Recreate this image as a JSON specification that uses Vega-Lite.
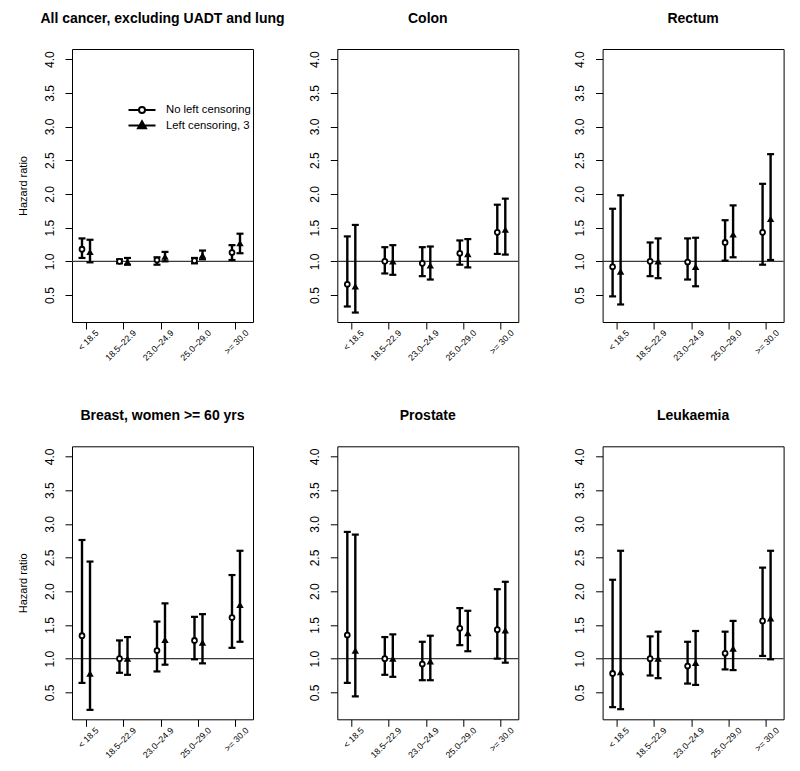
{
  "$schema": "https://vega.github.io/schema/vega-lite/v6.json",
  "background": "white",
  "padding": {"left": 16, "top": 11, "right": 10, "bottom": 5},
  "datasets": {
    "hr": [
      {"cancer": "All cancer, excluding UADT and lung", "bmi": "< 18.5", "series": "No left censoring", "hr": 1.18, "lo": 1.05, "hi": 1.34},
      {"cancer": "All cancer, excluding UADT and lung", "bmi": "< 18.5", "series": "Left censoring, 3", "hr": 1.14, "lo": 0.985, "hi": 1.32},
      {"cancer": "All cancer, excluding UADT and lung", "bmi": "18.5–22.9", "series": "No left censoring", "hr": 1.0, "lo": 0.97, "hi": 1.03},
      {"cancer": "All cancer, excluding UADT and lung", "bmi": "18.5–22.9", "series": "Left censoring, 3", "hr": 0.99, "lo": 0.95, "hi": 1.05},
      {"cancer": "All cancer, excluding UADT and lung", "bmi": "23.0–24.9", "series": "No left censoring", "hr": 1.02, "lo": 0.95, "hi": 1.06},
      {"cancer": "All cancer, excluding UADT and lung", "bmi": "23.0–24.9", "series": "Left censoring, 3", "hr": 1.07, "lo": 1.0, "hi": 1.14},
      {"cancer": "All cancer, excluding UADT and lung", "bmi": "25.0–29.0", "series": "No left censoring", "hr": 1.01, "lo": 0.97, "hi": 1.05},
      {"cancer": "All cancer, excluding UADT and lung", "bmi": "25.0–29.0", "series": "Left censoring, 3", "hr": 1.09, "lo": 1.03, "hi": 1.16},
      {"cancer": "All cancer, excluding UADT and lung", "bmi": ">= 30.0", "series": "No left censoring", "hr": 1.13, "lo": 1.02, "hi": 1.24},
      {"cancer": "All cancer, excluding UADT and lung", "bmi": ">= 30.0", "series": "Left censoring, 3", "hr": 1.27, "lo": 1.12, "hi": 1.41},

      {"cancer": "Colon", "bmi": "< 18.5", "series": "No left censoring", "hr": 0.66, "lo": 0.33, "hi": 1.37},
      {"cancer": "Colon", "bmi": "< 18.5", "series": "Left censoring, 3", "hr": 0.63, "lo": 0.24, "hi": 1.54},
      {"cancer": "Colon", "bmi": "18.5–22.9", "series": "No left censoring", "hr": 1.0, "lo": 0.82, "hi": 1.21},
      {"cancer": "Colon", "bmi": "18.5–22.9", "series": "Left censoring, 3", "hr": 1.0, "lo": 0.8, "hi": 1.24},
      {"cancer": "Colon", "bmi": "23.0–24.9", "series": "No left censoring", "hr": 0.97, "lo": 0.78, "hi": 1.21},
      {"cancer": "Colon", "bmi": "23.0–24.9", "series": "Left censoring, 3", "hr": 0.94, "lo": 0.73, "hi": 1.22},
      {"cancer": "Colon", "bmi": "25.0–29.0", "series": "No left censoring", "hr": 1.12, "lo": 0.95, "hi": 1.31},
      {"cancer": "Colon", "bmi": "25.0–29.0", "series": "Left censoring, 3", "hr": 1.11, "lo": 0.91, "hi": 1.33},
      {"cancer": "Colon", "bmi": ">= 30.0", "series": "No left censoring", "hr": 1.43, "lo": 1.11, "hi": 1.84},
      {"cancer": "Colon", "bmi": ">= 30.0", "series": "Left censoring, 3", "hr": 1.47, "lo": 1.1, "hi": 1.93},

      {"cancer": "Rectum", "bmi": "< 18.5", "series": "No left censoring", "hr": 0.92, "lo": 0.48, "hi": 1.78},
      {"cancer": "Rectum", "bmi": "< 18.5", "series": "Left censoring, 3", "hr": 0.85, "lo": 0.36, "hi": 1.98},
      {"cancer": "Rectum", "bmi": "18.5–22.9", "series": "No left censoring", "hr": 1.0, "lo": 0.78, "hi": 1.28},
      {"cancer": "Rectum", "bmi": "18.5–22.9", "series": "Left censoring, 3", "hr": 1.0, "lo": 0.75, "hi": 1.34},
      {"cancer": "Rectum", "bmi": "23.0–24.9", "series": "No left censoring", "hr": 0.99, "lo": 0.73, "hi": 1.34},
      {"cancer": "Rectum", "bmi": "23.0–24.9", "series": "Left censoring, 3", "hr": 0.92, "lo": 0.63, "hi": 1.35},
      {"cancer": "Rectum", "bmi": "25.0–29.0", "series": "No left censoring", "hr": 1.28, "lo": 1.01, "hi": 1.61},
      {"cancer": "Rectum", "bmi": "25.0–29.0", "series": "Left censoring, 3", "hr": 1.4, "lo": 1.06, "hi": 1.83},
      {"cancer": "Rectum", "bmi": ">= 30.0", "series": "No left censoring", "hr": 1.43, "lo": 0.95, "hi": 2.15},
      {"cancer": "Rectum", "bmi": ">= 30.0", "series": "Left censoring, 3", "hr": 1.63, "lo": 1.02, "hi": 2.59},

      {"cancer": "Breast, women >= 60 yrs", "bmi": "< 18.5", "series": "No left censoring", "hr": 1.34, "lo": 0.64, "hi": 2.76},
      {"cancer": "Breast, women >= 60 yrs", "bmi": "< 18.5", "series": "Left censoring, 3", "hr": 0.78, "lo": 0.24, "hi": 2.44},
      {"cancer": "Breast, women >= 60 yrs", "bmi": "18.5–22.9", "series": "No left censoring", "hr": 1.0, "lo": 0.79, "hi": 1.27},
      {"cancer": "Breast, women >= 60 yrs", "bmi": "18.5–22.9", "series": "Left censoring, 3", "hr": 1.0, "lo": 0.76, "hi": 1.32},
      {"cancer": "Breast, women >= 60 yrs", "bmi": "23.0–24.9", "series": "No left censoring", "hr": 1.12, "lo": 0.81, "hi": 1.55},
      {"cancer": "Breast, women >= 60 yrs", "bmi": "23.0–24.9", "series": "Left censoring, 3", "hr": 1.28, "lo": 0.91, "hi": 1.82},
      {"cancer": "Breast, women >= 60 yrs", "bmi": "25.0–29.0", "series": "No left censoring", "hr": 1.27, "lo": 0.99, "hi": 1.62},
      {"cancer": "Breast, women >= 60 yrs", "bmi": "25.0–29.0", "series": "Left censoring, 3", "hr": 1.24, "lo": 0.93, "hi": 1.66},
      {"cancer": "Breast, women >= 60 yrs", "bmi": ">= 30.0", "series": "No left censoring", "hr": 1.61, "lo": 1.16, "hi": 2.24},
      {"cancer": "Breast, women >= 60 yrs", "bmi": ">= 30.0", "series": "Left censoring, 3", "hr": 1.8, "lo": 1.25, "hi": 2.6},

      {"cancer": "Prostate", "bmi": "< 18.5", "series": "No left censoring", "hr": 1.35, "lo": 0.64, "hi": 2.88},
      {"cancer": "Prostate", "bmi": "< 18.5", "series": "Left censoring, 3", "hr": 1.12, "lo": 0.44, "hi": 2.84},
      {"cancer": "Prostate", "bmi": "18.5–22.9", "series": "No left censoring", "hr": 1.0, "lo": 0.76, "hi": 1.32},
      {"cancer": "Prostate", "bmi": "18.5–22.9", "series": "Left censoring, 3", "hr": 1.0, "lo": 0.73, "hi": 1.36},
      {"cancer": "Prostate", "bmi": "23.0–24.9", "series": "No left censoring", "hr": 0.92, "lo": 0.68, "hi": 1.25},
      {"cancer": "Prostate", "bmi": "23.0–24.9", "series": "Left censoring, 3", "hr": 0.96, "lo": 0.68, "hi": 1.34},
      {"cancer": "Prostate", "bmi": "25.0–29.0", "series": "No left censoring", "hr": 1.45, "lo": 1.2, "hi": 1.75},
      {"cancer": "Prostate", "bmi": "25.0–29.0", "series": "Left censoring, 3", "hr": 1.38, "lo": 1.11, "hi": 1.71},
      {"cancer": "Prostate", "bmi": ">= 30.0", "series": "No left censoring", "hr": 1.43, "lo": 1.0, "hi": 2.03},
      {"cancer": "Prostate", "bmi": ">= 30.0", "series": "Left censoring, 3", "hr": 1.42, "lo": 0.94, "hi": 2.14},

      {"cancer": "Leukaemia", "bmi": "< 18.5", "series": "No left censoring", "hr": 0.78, "lo": 0.28, "hi": 2.17},
      {"cancer": "Leukaemia", "bmi": "< 18.5", "series": "Left censoring, 3", "hr": 0.8, "lo": 0.25, "hi": 2.6},
      {"cancer": "Leukaemia", "bmi": "18.5–22.9", "series": "No left censoring", "hr": 1.0, "lo": 0.75, "hi": 1.33},
      {"cancer": "Leukaemia", "bmi": "18.5–22.9", "series": "Left censoring, 3", "hr": 1.0, "lo": 0.71, "hi": 1.4},
      {"cancer": "Leukaemia", "bmi": "23.0–24.9", "series": "No left censoring", "hr": 0.89, "lo": 0.63, "hi": 1.25},
      {"cancer": "Leukaemia", "bmi": "23.0–24.9", "series": "Left censoring, 3", "hr": 0.94, "lo": 0.61, "hi": 1.41},
      {"cancer": "Leukaemia", "bmi": "25.0–29.0", "series": "No left censoring", "hr": 1.08, "lo": 0.84, "hi": 1.4},
      {"cancer": "Leukaemia", "bmi": "25.0–29.0", "series": "Left censoring, 3", "hr": 1.15, "lo": 0.83, "hi": 1.56},
      {"cancer": "Leukaemia", "bmi": ">= 30.0", "series": "No left censoring", "hr": 1.56, "lo": 1.04, "hi": 2.35},
      {"cancer": "Leukaemia", "bmi": ">= 30.0", "series": "Left censoring, 3", "hr": 1.6, "lo": 0.99, "hi": 2.6}
    ]
  },
  "columns": 3,
  "spacing": {"row": 124.3, "column": 84.3},
  "bounds": "flush",
  "resolve": {"scale": {"stroke": "independent"}, "legend": {"stroke": "independent"}},
  "concat": [
    {
      "title": "All cancer, excluding UADT and lung",
      "width": 181, "height": 273,
      "layer": [
        {"data": {"values": [{"ref": 1}]}, "mark": {"type": "rule", "color": "#3a3a3a", "strokeWidth": 1.3},
         "encoding": {"y": {"field": "ref", "type": "quantitative", "scale": {"domain": [0.1, 4.15], "nice": false, "zero": false}, "axis": {"title": "Hazard ratio", "tickCount": 8, "format": ".1f", "labelAngle": -90, "labelAlign": "center", "labelBaseline": "alphabetic"}}}},
        {"data": {"name": "hr"}, "transform": [{"filter": "datum.cancer === 'All cancer, excluding UADT and lung'"}],
         "mark": {"type": "rule", "strokeWidth": 2.4},
         "encoding": {
           "x": {"field": "bmi", "type": "nominal", "sort": ["< 18.5", "18.5–22.9", "23.0–24.9", "25.0–29.0", ">= 30.0"], "scale": {"domain": ["< 18.5", "18.5–22.9", "23.0–24.9", "25.0–29.0", ">= 30.0"], "paddingInner": 0.573, "paddingOuter": 0.2, "align": 0.4}, "axis": {"title": null}},
           "xOffset": {"field": "series", "type": "nominal", "scale": {"domain": ["No left censoring", "Left censoring, 3"]}},
           "y": {"field": "lo", "type": "quantitative"}, "y2": {"field": "hi"},
           "stroke": {"field": "series", "type": "nominal", "scale": {"domain": ["No left censoring", "Left censoring, 3"], "range": ["black", "black"]},
             "legend": {"title": null, "orient": "none", "legendX": 64, "legendY": 55, "padding": 0, "symbolSize": 100, "symbolStrokeWidth": 2, "symbolStrokeColor": "black", "labelFont": "Liberation Sans", "labelFontSize": 11.3, "labelColor": "black", "labelOffset": 18, "rowPadding": -0.5, "labelLimit": 300,
               "encode": {"symbols": {"update": {
                 "shape": {"signal": "datum.value === 'No left censoring' ? 'M-2.7,0H-0.6M0.6,0H2.7M-0.6,0A0.6,0.6 0 1,1 0.6,0A0.6,0.6 0 1,1 -0.6,0Z' : 'M-2.7,0H2.7M-0.8,0.55L0.8,0.55L0,-0.85Z'"},
                 "fill": {"signal": "datum.value === 'No left censoring' ? 'white' : 'black'"},
                 "stroke": {"value": "black"}, "strokeWidth": {"value": 2}, "opacity": {"value": 1}}}}}}
         }},
        {"data": {"name": "hr"}, "transform": [{"filter": "datum.cancer === 'All cancer, excluding UADT and lung'"}],
         "mark": {"type": "tick", "size": 7, "thickness": 2.2, "color": "black", "opacity": 1},
         "encoding": {"x": {"field": "bmi", "type": "nominal", "sort": ["< 18.5", "18.5–22.9", "23.0–24.9", "25.0–29.0", ">= 30.0"]}, "xOffset": {"field": "series", "type": "nominal"}, "y": {"field": "lo", "type": "quantitative"}}},
        {"data": {"name": "hr"}, "transform": [{"filter": "datum.cancer === 'All cancer, excluding UADT and lung'"}],
         "mark": {"type": "tick", "size": 7, "thickness": 2.2, "color": "black", "opacity": 1},
         "encoding": {"x": {"field": "bmi", "type": "nominal", "sort": ["< 18.5", "18.5–22.9", "23.0–24.9", "25.0–29.0", ">= 30.0"]}, "xOffset": {"field": "series", "type": "nominal"}, "y": {"field": "hi", "type": "quantitative"}}},
        {"data": {"name": "hr"}, "transform": [{"filter": "datum.cancer === 'All cancer, excluding UADT and lung' && datum.series === 'No left censoring'"}],
         "mark": {"type": "point", "shape": "circle", "filled": true, "fill": "white", "stroke": "black", "strokeWidth": 1.8, "size": 24, "opacity": 1},
         "encoding": {"x": {"field": "bmi", "type": "nominal", "sort": ["< 18.5", "18.5–22.9", "23.0–24.9", "25.0–29.0", ">= 30.0"]}, "xOffset": {"field": "series", "type": "nominal"}, "y": {"field": "hr", "type": "quantitative"}}},
        {"data": {"name": "hr"}, "transform": [{"filter": "datum.cancer === 'All cancer, excluding UADT and lung' && datum.series === 'Left censoring, 3'"}],
         "mark": {"type": "point", "shape": "triangle-up", "filled": true, "color": "black", "size": 55, "opacity": 1},
         "encoding": {"x": {"field": "bmi", "type": "nominal", "sort": ["< 18.5", "18.5–22.9", "23.0–24.9", "25.0–29.0", ">= 30.0"]}, "xOffset": {"field": "series", "type": "nominal"}, "y": {"field": "hr", "type": "quantitative"}}}
      ]
    },
    {
      "title": "Colon",
      "width": 181, "height": 273,
      "layer": [
        {"data": {"values": [{"ref": 1}]}, "mark": {"type": "rule", "color": "#3a3a3a", "strokeWidth": 1.3},
         "encoding": {"y": {"field": "ref", "type": "quantitative", "scale": {"domain": [0.1, 4.15], "nice": false, "zero": false}, "axis": {"title": null, "tickCount": 8, "format": ".1f", "labelAngle": -90, "labelAlign": "center", "labelBaseline": "alphabetic"}}}},
        {"data": {"name": "hr"}, "transform": [{"filter": "datum.cancer === 'Colon'"}],
         "mark": {"type": "rule", "strokeWidth": 2.4, "color": "black"},
         "encoding": {
           "x": {"field": "bmi", "type": "nominal", "sort": ["< 18.5", "18.5–22.9", "23.0–24.9", "25.0–29.0", ">= 30.0"], "scale": {"domain": ["< 18.5", "18.5–22.9", "23.0–24.9", "25.0–29.0", ">= 30.0"], "paddingInner": 0.573, "paddingOuter": 0.2, "align": 0.4}, "axis": {"title": null}},
           "xOffset": {"field": "series", "type": "nominal", "scale": {"domain": ["No left censoring", "Left censoring, 3"]}},
           "y": {"field": "lo", "type": "quantitative"}, "y2": {"field": "hi"}
         }},
        {"data": {"name": "hr"}, "transform": [{"filter": "datum.cancer === 'Colon'"}],
         "mark": {"type": "tick", "size": 7, "thickness": 2.2, "color": "black", "opacity": 1},
         "encoding": {"x": {"field": "bmi", "type": "nominal", "sort": ["< 18.5", "18.5–22.9", "23.0–24.9", "25.0–29.0", ">= 30.0"]}, "xOffset": {"field": "series", "type": "nominal"}, "y": {"field": "lo", "type": "quantitative"}}},
        {"data": {"name": "hr"}, "transform": [{"filter": "datum.cancer === 'Colon'"}],
         "mark": {"type": "tick", "size": 7, "thickness": 2.2, "color": "black", "opacity": 1},
         "encoding": {"x": {"field": "bmi", "type": "nominal", "sort": ["< 18.5", "18.5–22.9", "23.0–24.9", "25.0–29.0", ">= 30.0"]}, "xOffset": {"field": "series", "type": "nominal"}, "y": {"field": "hi", "type": "quantitative"}}},
        {"data": {"name": "hr"}, "transform": [{"filter": "datum.cancer === 'Colon' && datum.series === 'No left censoring'"}],
         "mark": {"type": "point", "shape": "circle", "filled": true, "fill": "white", "stroke": "black", "strokeWidth": 1.8, "size": 24, "opacity": 1},
         "encoding": {"x": {"field": "bmi", "type": "nominal", "sort": ["< 18.5", "18.5–22.9", "23.0–24.9", "25.0–29.0", ">= 30.0"]}, "xOffset": {"field": "series", "type": "nominal"}, "y": {"field": "hr", "type": "quantitative"}}},
        {"data": {"name": "hr"}, "transform": [{"filter": "datum.cancer === 'Colon' && datum.series === 'Left censoring, 3'"}],
         "mark": {"type": "point", "shape": "triangle-up", "filled": true, "color": "black", "size": 55, "opacity": 1},
         "encoding": {"x": {"field": "bmi", "type": "nominal", "sort": ["< 18.5", "18.5–22.9", "23.0–24.9", "25.0–29.0", ">= 30.0"]}, "xOffset": {"field": "series", "type": "nominal"}, "y": {"field": "hr", "type": "quantitative"}}}
      ]
    },
    {
      "title": "Rectum",
      "width": 181, "height": 273,
      "layer": [
        {"data": {"values": [{"ref": 1}]}, "mark": {"type": "rule", "color": "#3a3a3a", "strokeWidth": 1.3},
         "encoding": {"y": {"field": "ref", "type": "quantitative", "scale": {"domain": [0.1, 4.15], "nice": false, "zero": false}, "axis": {"title": null, "tickCount": 8, "format": ".1f", "labelAngle": -90, "labelAlign": "center", "labelBaseline": "alphabetic"}}}},
        {"data": {"name": "hr"}, "transform": [{"filter": "datum.cancer === 'Rectum'"}],
         "mark": {"type": "rule", "strokeWidth": 2.4, "color": "black"},
         "encoding": {
           "x": {"field": "bmi", "type": "nominal", "sort": ["< 18.5", "18.5–22.9", "23.0–24.9", "25.0–29.0", ">= 30.0"], "scale": {"domain": ["< 18.5", "18.5–22.9", "23.0–24.9", "25.0–29.0", ">= 30.0"], "paddingInner": 0.573, "paddingOuter": 0.2, "align": 0.4}, "axis": {"title": null}},
           "xOffset": {"field": "series", "type": "nominal", "scale": {"domain": ["No left censoring", "Left censoring, 3"]}},
           "y": {"field": "lo", "type": "quantitative"}, "y2": {"field": "hi"}
         }},
        {"data": {"name": "hr"}, "transform": [{"filter": "datum.cancer === 'Rectum'"}],
         "mark": {"type": "tick", "size": 7, "thickness": 2.2, "color": "black", "opacity": 1},
         "encoding": {"x": {"field": "bmi", "type": "nominal", "sort": ["< 18.5", "18.5–22.9", "23.0–24.9", "25.0–29.0", ">= 30.0"]}, "xOffset": {"field": "series", "type": "nominal"}, "y": {"field": "lo", "type": "quantitative"}}},
        {"data": {"name": "hr"}, "transform": [{"filter": "datum.cancer === 'Rectum'"}],
         "mark": {"type": "tick", "size": 7, "thickness": 2.2, "color": "black", "opacity": 1},
         "encoding": {"x": {"field": "bmi", "type": "nominal", "sort": ["< 18.5", "18.5–22.9", "23.0–24.9", "25.0–29.0", ">= 30.0"]}, "xOffset": {"field": "series", "type": "nominal"}, "y": {"field": "hi", "type": "quantitative"}}},
        {"data": {"name": "hr"}, "transform": [{"filter": "datum.cancer === 'Rectum' && datum.series === 'No left censoring'"}],
         "mark": {"type": "point", "shape": "circle", "filled": true, "fill": "white", "stroke": "black", "strokeWidth": 1.8, "size": 24, "opacity": 1},
         "encoding": {"x": {"field": "bmi", "type": "nominal", "sort": ["< 18.5", "18.5–22.9", "23.0–24.9", "25.0–29.0", ">= 30.0"]}, "xOffset": {"field": "series", "type": "nominal"}, "y": {"field": "hr", "type": "quantitative"}}},
        {"data": {"name": "hr"}, "transform": [{"filter": "datum.cancer === 'Rectum' && datum.series === 'Left censoring, 3'"}],
         "mark": {"type": "point", "shape": "triangle-up", "filled": true, "color": "black", "size": 55, "opacity": 1},
         "encoding": {"x": {"field": "bmi", "type": "nominal", "sort": ["< 18.5", "18.5–22.9", "23.0–24.9", "25.0–29.0", ">= 30.0"]}, "xOffset": {"field": "series", "type": "nominal"}, "y": {"field": "hr", "type": "quantitative"}}}
      ]
    },
    {
      "title": "Breast, women >= 60 yrs",
      "width": 181, "height": 273,
      "layer": [
        {"data": {"values": [{"ref": 1}]}, "mark": {"type": "rule", "color": "#3a3a3a", "strokeWidth": 1.3},
         "encoding": {"y": {"field": "ref", "type": "quantitative", "scale": {"domain": [0.1, 4.15], "nice": false, "zero": false}, "axis": {"title": "Hazard ratio", "tickCount": 8, "format": ".1f", "labelAngle": -90, "labelAlign": "center", "labelBaseline": "alphabetic"}}}},
        {"data": {"name": "hr"}, "transform": [{"filter": "datum.cancer === 'Breast, women >= 60 yrs'"}],
         "mark": {"type": "rule", "strokeWidth": 2.4, "color": "black"},
         "encoding": {
           "x": {"field": "bmi", "type": "nominal", "sort": ["< 18.5", "18.5–22.9", "23.0–24.9", "25.0–29.0", ">= 30.0"], "scale": {"domain": ["< 18.5", "18.5–22.9", "23.0–24.9", "25.0–29.0", ">= 30.0"], "paddingInner": 0.573, "paddingOuter": 0.2, "align": 0.4}, "axis": {"title": null}},
           "xOffset": {"field": "series", "type": "nominal", "scale": {"domain": ["No left censoring", "Left censoring, 3"]}},
           "y": {"field": "lo", "type": "quantitative"}, "y2": {"field": "hi"}
         }},
        {"data": {"name": "hr"}, "transform": [{"filter": "datum.cancer === 'Breast, women >= 60 yrs'"}],
         "mark": {"type": "tick", "size": 7, "thickness": 2.2, "color": "black", "opacity": 1},
         "encoding": {"x": {"field": "bmi", "type": "nominal", "sort": ["< 18.5", "18.5–22.9", "23.0–24.9", "25.0–29.0", ">= 30.0"]}, "xOffset": {"field": "series", "type": "nominal"}, "y": {"field": "lo", "type": "quantitative"}}},
        {"data": {"name": "hr"}, "transform": [{"filter": "datum.cancer === 'Breast, women >= 60 yrs'"}],
         "mark": {"type": "tick", "size": 7, "thickness": 2.2, "color": "black", "opacity": 1},
         "encoding": {"x": {"field": "bmi", "type": "nominal", "sort": ["< 18.5", "18.5–22.9", "23.0–24.9", "25.0–29.0", ">= 30.0"]}, "xOffset": {"field": "series", "type": "nominal"}, "y": {"field": "hi", "type": "quantitative"}}},
        {"data": {"name": "hr"}, "transform": [{"filter": "datum.cancer === 'Breast, women >= 60 yrs' && datum.series === 'No left censoring'"}],
         "mark": {"type": "point", "shape": "circle", "filled": true, "fill": "white", "stroke": "black", "strokeWidth": 1.8, "size": 24, "opacity": 1},
         "encoding": {"x": {"field": "bmi", "type": "nominal", "sort": ["< 18.5", "18.5–22.9", "23.0–24.9", "25.0–29.0", ">= 30.0"]}, "xOffset": {"field": "series", "type": "nominal"}, "y": {"field": "hr", "type": "quantitative"}}},
        {"data": {"name": "hr"}, "transform": [{"filter": "datum.cancer === 'Breast, women >= 60 yrs' && datum.series === 'Left censoring, 3'"}],
         "mark": {"type": "point", "shape": "triangle-up", "filled": true, "color": "black", "size": 55, "opacity": 1},
         "encoding": {"x": {"field": "bmi", "type": "nominal", "sort": ["< 18.5", "18.5–22.9", "23.0–24.9", "25.0–29.0", ">= 30.0"]}, "xOffset": {"field": "series", "type": "nominal"}, "y": {"field": "hr", "type": "quantitative"}}}
      ]
    },
    {
      "title": "Prostate",
      "width": 181, "height": 273,
      "layer": [
        {"data": {"values": [{"ref": 1}]}, "mark": {"type": "rule", "color": "#3a3a3a", "strokeWidth": 1.3},
         "encoding": {"y": {"field": "ref", "type": "quantitative", "scale": {"domain": [0.1, 4.15], "nice": false, "zero": false}, "axis": {"title": null, "tickCount": 8, "format": ".1f", "labelAngle": -90, "labelAlign": "center", "labelBaseline": "alphabetic"}}}},
        {"data": {"name": "hr"}, "transform": [{"filter": "datum.cancer === 'Prostate'"}],
         "mark": {"type": "rule", "strokeWidth": 2.4, "color": "black"},
         "encoding": {
           "x": {"field": "bmi", "type": "nominal", "sort": ["< 18.5", "18.5–22.9", "23.0–24.9", "25.0–29.0", ">= 30.0"], "scale": {"domain": ["< 18.5", "18.5–22.9", "23.0–24.9", "25.0–29.0", ">= 30.0"], "paddingInner": 0.573, "paddingOuter": 0.2, "align": 0.4}, "axis": {"title": null}},
           "xOffset": {"field": "series", "type": "nominal", "scale": {"domain": ["No left censoring", "Left censoring, 3"]}},
           "y": {"field": "lo", "type": "quantitative"}, "y2": {"field": "hi"}
         }},
        {"data": {"name": "hr"}, "transform": [{"filter": "datum.cancer === 'Prostate'"}],
         "mark": {"type": "tick", "size": 7, "thickness": 2.2, "color": "black", "opacity": 1},
         "encoding": {"x": {"field": "bmi", "type": "nominal", "sort": ["< 18.5", "18.5–22.9", "23.0–24.9", "25.0–29.0", ">= 30.0"]}, "xOffset": {"field": "series", "type": "nominal"}, "y": {"field": "lo", "type": "quantitative"}}},
        {"data": {"name": "hr"}, "transform": [{"filter": "datum.cancer === 'Prostate'"}],
         "mark": {"type": "tick", "size": 7, "thickness": 2.2, "color": "black", "opacity": 1},
         "encoding": {"x": {"field": "bmi", "type": "nominal", "sort": ["< 18.5", "18.5–22.9", "23.0–24.9", "25.0–29.0", ">= 30.0"]}, "xOffset": {"field": "series", "type": "nominal"}, "y": {"field": "hi", "type": "quantitative"}}},
        {"data": {"name": "hr"}, "transform": [{"filter": "datum.cancer === 'Prostate' && datum.series === 'No left censoring'"}],
         "mark": {"type": "point", "shape": "circle", "filled": true, "fill": "white", "stroke": "black", "strokeWidth": 1.8, "size": 24, "opacity": 1},
         "encoding": {"x": {"field": "bmi", "type": "nominal", "sort": ["< 18.5", "18.5–22.9", "23.0–24.9", "25.0–29.0", ">= 30.0"]}, "xOffset": {"field": "series", "type": "nominal"}, "y": {"field": "hr", "type": "quantitative"}}},
        {"data": {"name": "hr"}, "transform": [{"filter": "datum.cancer === 'Prostate' && datum.series === 'Left censoring, 3'"}],
         "mark": {"type": "point", "shape": "triangle-up", "filled": true, "color": "black", "size": 55, "opacity": 1},
         "encoding": {"x": {"field": "bmi", "type": "nominal", "sort": ["< 18.5", "18.5–22.9", "23.0–24.9", "25.0–29.0", ">= 30.0"]}, "xOffset": {"field": "series", "type": "nominal"}, "y": {"field": "hr", "type": "quantitative"}}}
      ]
    },
    {
      "title": "Leukaemia",
      "width": 181, "height": 273,
      "layer": [
        {"data": {"values": [{"ref": 1}]}, "mark": {"type": "rule", "color": "#3a3a3a", "strokeWidth": 1.3},
         "encoding": {"y": {"field": "ref", "type": "quantitative", "scale": {"domain": [0.1, 4.15], "nice": false, "zero": false}, "axis": {"title": null, "tickCount": 8, "format": ".1f", "labelAngle": -90, "labelAlign": "center", "labelBaseline": "alphabetic"}}}},
        {"data": {"name": "hr"}, "transform": [{"filter": "datum.cancer === 'Leukaemia'"}],
         "mark": {"type": "rule", "strokeWidth": 2.4, "color": "black"},
         "encoding": {
           "x": {"field": "bmi", "type": "nominal", "sort": ["< 18.5", "18.5–22.9", "23.0–24.9", "25.0–29.0", ">= 30.0"], "scale": {"domain": ["< 18.5", "18.5–22.9", "23.0–24.9", "25.0–29.0", ">= 30.0"], "paddingInner": 0.573, "paddingOuter": 0.2, "align": 0.4}, "axis": {"title": null}},
           "xOffset": {"field": "series", "type": "nominal", "scale": {"domain": ["No left censoring", "Left censoring, 3"]}},
           "y": {"field": "lo", "type": "quantitative"}, "y2": {"field": "hi"}
         }},
        {"data": {"name": "hr"}, "transform": [{"filter": "datum.cancer === 'Leukaemia'"}],
         "mark": {"type": "tick", "size": 7, "thickness": 2.2, "color": "black", "opacity": 1},
         "encoding": {"x": {"field": "bmi", "type": "nominal", "sort": ["< 18.5", "18.5–22.9", "23.0–24.9", "25.0–29.0", ">= 30.0"]}, "xOffset": {"field": "series", "type": "nominal"}, "y": {"field": "lo", "type": "quantitative"}}},
        {"data": {"name": "hr"}, "transform": [{"filter": "datum.cancer === 'Leukaemia'"}],
         "mark": {"type": "tick", "size": 7, "thickness": 2.2, "color": "black", "opacity": 1},
         "encoding": {"x": {"field": "bmi", "type": "nominal", "sort": ["< 18.5", "18.5–22.9", "23.0–24.9", "25.0–29.0", ">= 30.0"]}, "xOffset": {"field": "series", "type": "nominal"}, "y": {"field": "hi", "type": "quantitative"}}},
        {"data": {"name": "hr"}, "transform": [{"filter": "datum.cancer === 'Leukaemia' && datum.series === 'No left censoring'"}],
         "mark": {"type": "point", "shape": "circle", "filled": true, "fill": "white", "stroke": "black", "strokeWidth": 1.8, "size": 24, "opacity": 1},
         "encoding": {"x": {"field": "bmi", "type": "nominal", "sort": ["< 18.5", "18.5–22.9", "23.0–24.9", "25.0–29.0", ">= 30.0"]}, "xOffset": {"field": "series", "type": "nominal"}, "y": {"field": "hr", "type": "quantitative"}}},
        {"data": {"name": "hr"}, "transform": [{"filter": "datum.cancer === 'Leukaemia' && datum.series === 'Left censoring, 3'"}],
         "mark": {"type": "point", "shape": "triangle-up", "filled": true, "color": "black", "size": 55, "opacity": 1},
         "encoding": {"x": {"field": "bmi", "type": "nominal", "sort": ["< 18.5", "18.5–22.9", "23.0–24.9", "25.0–29.0", ">= 30.0"]}, "xOffset": {"field": "series", "type": "nominal"}, "y": {"field": "hr", "type": "quantitative"}}}
      ]
    }
  ],
  "config": {
    "font": "Liberation Sans",
    "view": {"stroke": "black", "strokeWidth": 1},
    "axis": {"grid": false, "domain": false, "tickColor": "black", "tickWidth": 1, "tickSize": 7, "labelColor": "black", "titleColor": "black", "labelFont": "Liberation Sans", "titleFont": "Liberation Sans", "labelOverlap": false},
    "axisX": {"labelAngle": -45, "labelFontSize": 8.8, "labelAlign": "right", "labelBaseline": "middle", "labelOffset": 11, "labelPadding": 2},
    "axisY": {"labelPadding": 12, "labelFontSize": 12, "titleFontSize": 11, "titleFontWeight": "normal", "titlePadding": 15},
    "title": {"fontSize": 14, "fontWeight": "bold", "font": "Liberation Sans", "color": "black", "anchor": "middle", "frame": "group", "baseline": "alphabetic", "offset": 23}
  }
}
